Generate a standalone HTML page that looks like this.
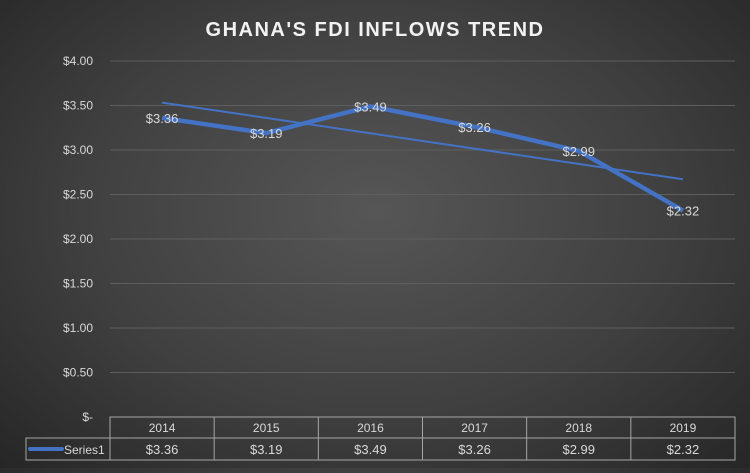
<!DOCTYPE html>
<html><head><meta charset="utf-8"><style>
html,body{margin:0;padding:0}
body{width:750px;height:468px;overflow:hidden;background:radial-gradient(ellipse at 50% 45%,#565656 0%,#404040 55%,#262626 100%);font-family:"Liberation Sans",sans-serif}
</style></head><body>
<svg id="chart" width="750" height="468" xmlns="http://www.w3.org/2000/svg">
<text x="375" y="36" text-anchor="middle" fill="#f2f2f2" font-size="20" font-weight="bold" letter-spacing="1.5" font-family="Liberation Sans, sans-serif">GHANA'S FDI INFLOWS TREND</text>
<g id="grid"></g><g id="axis"></g><g id="series"></g><g id="table"></g>
</svg>
<script>
const categories=["2014","2015","2016","2017","2018","2019"];
const values=[3.36,3.19,3.49,3.26,2.99,2.32];
const ticks=[0,0.5,1,1.5,2,2.5,3,3.5,4];
const tickLabels=["$-","$0.50","$1.00","$1.50","$2.00","$2.50","$3.00","$3.50","$4.00"];
const NS="http://www.w3.org/2000/svg";
const L=110,R=735,T=61,B=417,yMax=4;
const cw=(R-L)/categories.length;
const xs=i=>L+cw*(i+0.5);
const ys=v=>B-(v/yMax)*(B-T);
function mk(tag,at,par,txt){const e=document.createElementNS(NS,tag);for(const k in at)e.setAttribute(k,at[k]);if(txt!==undefined)e.textContent=txt;document.getElementById(par).appendChild(e);return e;}
ticks.forEach((t,i)=>{
 if(t>0){const g=mk('line',{x1:L,x2:R,y1:ys(t),y2:ys(t),stroke:'#5e5e5e','stroke-width':1},'grid');
 
 }
 const tx=mk('text',{x:93,y:ys(t)+4,'text-anchor':'end',fill:'#d9d9d9','font-size':12},'axis',tickLabels[i]);
 
 
});
// trendline
const n=values.length,mx=(n-1)/2,my=values.reduce((a,b)=>a+b)/n;
let sxy=0,sxx=0;values.forEach((v,i)=>{sxy+=(i-mx)*(v-my);sxx+=(i-mx)*(i-mx);});
const sl=sxy/sxx,ic=my-sl*mx;
const tr=mk('line',{x1:xs(0),y1:ys(ic),x2:xs(n-1),y2:ys(ic+sl*(n-1)),stroke:'#4472c4','stroke-width':2},'series');


const ln=mk('polyline',{points:values.map((v,i)=>xs(i)+','+ys(v)).join(' '),fill:'none',stroke:'#4472c4','stroke-width':4.5,'stroke-linejoin':'round'},'series');


values.forEach((v,i)=>{
 const t=mk('text',{x:xs(i),y:ys(v)+5,'text-anchor':'middle',fill:'#d9d9d9','font-size':13},'series','$'+v.toFixed(2));
 
 
});
// table
const r1=417,r2=438,r3=460,st='#a6a6a6';
const tb=mk('path',{d:`M${L},${r1}H${R}V${r3}H26V${r2}H${L}Z M26,${r2}H${R}`,fill:'none',stroke:st,'stroke-width':1},'table');


categories.forEach((c,i)=>{
 const ln2=mk('line',{x1:L+cw*i,x2:L+cw*i,y1:r1,y2:r3,stroke:st},'table');
 
 
 const h=mk('text',{x:xs(i),y:r1+15,'text-anchor':'middle',fill:'#d9d9d9','font-size':12},'table',c);
 
 
 const d=mk('text',{x:xs(i),y:r2+16,'text-anchor':'middle',fill:'#d9d9d9','font-size':13},'table','$'+values[i].toFixed(2));
 
 
});
const lk=mk('line',{x1:30,x2:62,y1:r2+11,y2:r2+11,stroke:'#4472c4','stroke-width':4,'stroke-linecap':'round'},'table');


const lt=mk('text',{x:64,y:r2+16,fill:'#d9d9d9','font-size':12},'table','Series1');


</script>
</body></html>
